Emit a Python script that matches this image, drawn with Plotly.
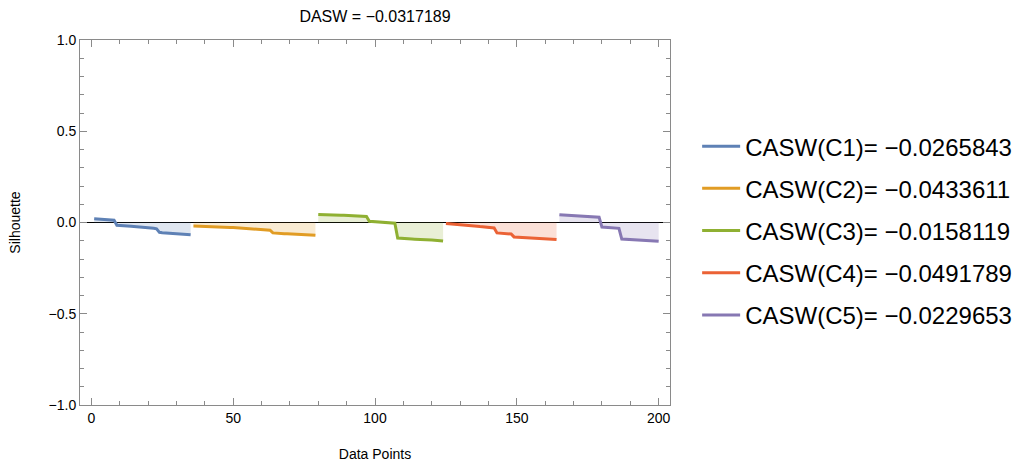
import plotly.graph_objects as go

# ---- data ----
c1 = [0.021,0.020,0.020,0.019,0.018,0.017,0.016,0.013,
      -0.015,-0.017,-0.018,-0.019,-0.020,-0.021,-0.022,-0.023,-0.024,-0.025,-0.026,-0.028,-0.030,-0.032,-0.035,
      -0.054,-0.056,-0.057,-0.058,-0.059,-0.060,-0.061,-0.062,-0.063,-0.064,-0.065,-0.067]
c2 = [-0.019,-0.020,-0.020,-0.021,-0.022,-0.022,-0.023,-0.024,-0.024,-0.025,-0.026,-0.026,-0.027,-0.028,
      -0.028,-0.029,-0.030,-0.030,-0.031,-0.032,-0.033,-0.034,-0.035,-0.036,-0.037,-0.038,-0.040,-0.042,
      -0.057,-0.059,-0.060,-0.061,-0.062,-0.062,-0.063,-0.064,-0.064,-0.065,-0.066,-0.066,-0.067,-0.068,-0.069,-0.070]
c3 = [0.044,0.043,0.043,0.042,0.042,0.041,0.041,0.040,0.040,0.040,0.039,0.039,0.038,0.038,0.037,0.036,0.035,0.033,
      0.007,0.006,0.005,0.004,0.003,0.002,0.001,0.000,-0.002,-0.004,
      -0.085,-0.087,-0.088,-0.089,-0.090,-0.091,-0.092,-0.092,-0.093,-0.094,-0.095,-0.095,-0.096,-0.097,-0.098,-0.099,-0.101]
c4 = [-0.006,-0.007,-0.009,-0.010,-0.011,-0.013,-0.014,-0.015,-0.016,-0.018,-0.019,-0.020,-0.022,-0.023,-0.024,-0.026,-0.028,-0.030,
      -0.057,-0.058,-0.059,-0.060,-0.061,-0.063,
      -0.079,-0.080,-0.081,-0.082,-0.083,-0.084,-0.085,-0.086,-0.086,-0.087,-0.088,-0.089,-0.090,-0.091,-0.092,-0.093]
c5 = [0.043,0.042,0.041,0.040,0.039,0.038,0.038,0.037,0.036,0.035,0.034,0.033,0.032,0.031,0.029,
      -0.025,-0.026,-0.027,-0.028,-0.029,-0.030,-0.032,
      -0.091,-0.092,-0.093,-0.094,-0.095,-0.096,-0.097,-0.098,-0.099,-0.099,-0.100,-0.101,-0.102,-0.103]

series = [c1, c2, c3, c4, c5]
names = ["CASW(C1)= \u22120.0265843", "CASW(C2)= \u22120.0433611", "CASW(C3)= \u22120.0158119",
         "CASW(C4)= \u22120.0491789", "CASW(C5)= \u22120.0229653"]
title_text = "DASW = \u22120.0317189"

colors = [(94, 129, 181), (225, 156, 36), (143, 176, 50), (235, 98, 53), (135, 120, 179)]

fig = go.Figure()
start = 1
for vals, name, col in zip(series, names, colors):
    xs = list(range(start, start + len(vals)))
    start += len(vals)
    fig.add_trace(go.Scatter(x=xs, y=vals, mode="lines", fill="tozeroy",
                             fillcolor="rgba(%d,%d,%d,0.2)" % col,
                             line=dict(width=0), showlegend=False, hoverinfo="skip"))
    fig.add_trace(go.Scatter(x=xs, y=vals, mode="lines", name=name, legendgroup=name,
                             line=dict(color="rgb(%d,%d,%d)" % col, width=3)))

axis_common = dict(showline=True, linecolor="#8a8a8a", linewidth=1, mirror="allticks",
                   ticks="inside", tickcolor="#8a8a8a", ticklen=7, tickwidth=1,
                   showgrid=False, tickfont=dict(size=14, color="black"), automargin=False)

fig.update_xaxes(range=[-4, 204], tickvals=[0, 50, 100, 150, 200], zeroline=False,
                 minor=dict(dtick=10, ticks="inside", ticklen=4, tickcolor="#8a8a8a", showgrid=False),
                 title=dict(text="Data Points", font=dict(size=14, color="black"), standoff=24),
                 **axis_common)
fig.update_yaxes(range=[-1, 1], tickvals=[-1, -0.5, 0, 0.5, 1],
                 ticktext=["\u22121.0", "\u22120.5", "0.0", "0.5", "1.0"],
                 zeroline=True, zerolinecolor="black", zerolinewidth=1,
                 minor=dict(dtick=0.1, ticks="inside", ticklen=4, tickcolor="#8a8a8a", showgrid=False),
                 title=dict(text="Silhouette", font=dict(size=14, color="black"), standoff=24),
                 **axis_common)

fig.update_layout(
    width=1019, height=467,
    margin=dict(l=80, r=349, t=40, b=62, autoexpand=False),
    paper_bgcolor="white", plot_bgcolor="white",
    font=dict(family="Liberation Sans, Arial, sans-serif", color="black"),
    title=dict(text=title_text, x=0.5, xref="paper", y=0.965, yanchor="middle",
               font=dict(size=16, color="black")),
    legend=dict(x=1.046, xanchor="left", y=0.478, yanchor="middle",
                font=dict(size=24, color="black"), tracegroupgap=8,
                bgcolor="rgba(0,0,0,0)", itemwidth=38),
)

fig.write_html("out.html")
